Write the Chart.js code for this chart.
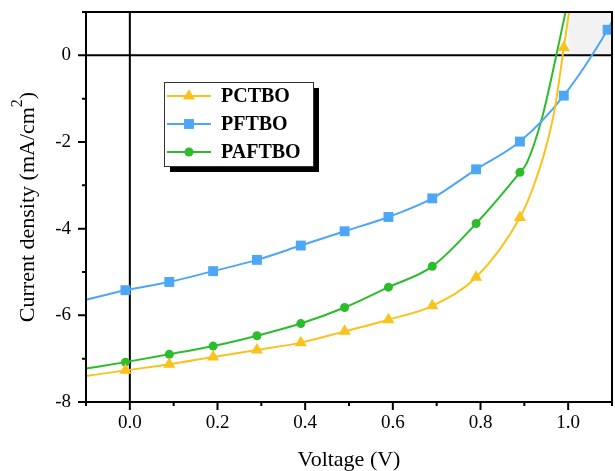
<!DOCTYPE html>
<html>
<head>
  <title>J-V curves</title>
  <script src="https://cdn.jsdelivr.net/npm/chart.js"></script>
  <style>
    body { margin: 0; background: #fff; }
  </style>
</head>
<body>
  <canvas id="grafico" width="615" height="471"></canvas>

  <script>
    // voltages where the markers sit
    const markerV = [-0.01, 0.09, 0.19, 0.29, 0.39, 0.49, 0.59, 0.69, 0.79, 0.89, 0.99, 1.09];

    const pctboV = [-0.1, -0.01, 0.09, 0.19, 0.29, 0.39, 0.49, 0.59, 0.69, 0.79, 0.89, 0.92, 0.95, 0.97, 0.99, 1.005];
    const pctboJ = [-7.40, -7.27, -7.13, -6.96, -6.80, -6.63, -6.37, -6.10, -5.78, -5.12, -3.74, -3.05, -2.1, -1.2, 0.18, 1.2];

    const pftboV = [-0.1, -0.01, 0.09, 0.19, 0.29, 0.39, 0.49, 0.59, 0.69, 0.79, 0.89, 0.99, 1.09, 1.1];
    const pftboJ = [-5.64, -5.42, -5.23, -4.98, -4.72, -4.39, -4.06, -3.73, -3.30, -2.63, -1.99, -0.93, 0.59, 0.78];

    const paftboV = [-0.1, -0.01, 0.09, 0.19, 0.29, 0.39, 0.49, 0.59, 0.69, 0.79, 0.89, 0.905, 0.94, 0.973, 0.994, 1.005];
    const paftboJ = [-7.23, -7.08, -6.90, -6.71, -6.47, -6.19, -5.82, -5.35, -4.87, -3.88, -2.70, -2.5, -1.46, 0, 1.0, 1.5];

    const xTicks = [0.0, 0.2, 0.4, 0.6, 0.8, 1.0];
    const yTicks = [-8, -6, -4, -2, 0];

    const serie = (v, j) => v.map((x, i) => ({ x: x, y: j[i] }));
    const esMarca = x => markerV.some(m => Math.abs(m - x) < 1e-6);

    const amarillo = '#f9c21c';
    const azul = '#4ea6f6';
    const verde = '#2cbc2c';

    const series = [
      { label: 'PCTBO', color: amarillo, style: 'triangle', r: 7, data: serie(pctboV, pctboJ) },
      { label: 'PFTBO', color: azul, style: 'rect', r: 7, data: serie(pftboV, pftboJ) },
      { label: 'PAFTBO', color: verde, style: 'circle', r: 4.5, data: serie(paftboV, paftboJ) }
    ];

    const familia = '"Liberation Serif", "Times New Roman", serif';

    // frame, zero lines, ticks, grey box, y title and the boxed legend
    const extras = {
      id: 'extras',
      beforeDatasetsDraw(chart) {
        const { ctx, chartArea: a, scales: { x, y } } = chart;
        ctx.save();
        ctx.fillStyle = '#f2f2f2';
        const x0 = x.getPixelForValue(1.0), x1 = x.getPixelForValue(1.1);
        const y0 = y.getPixelForValue(0), y1 = y.getPixelForValue(1);
        ctx.fillRect(x0, y1, x1 - x0, y0 - y1);
        ctx.strokeStyle = '#000';
        ctx.lineWidth = 2;
        ctx.beginPath();
        ctx.moveTo(x.getPixelForValue(0), a.top);
        ctx.lineTo(x.getPixelForValue(0), a.bottom);
        ctx.moveTo(a.left, y0);
        ctx.lineTo(a.right, y0);
        ctx.stroke();
        ctx.restore();
      },
      afterDraw(chart) {
        const { ctx, chartArea: a, scales: { x, y } } = chart;
        ctx.save();
        ctx.strokeStyle = '#000';
        ctx.lineWidth = 2;
        ctx.strokeRect(a.left, a.top, a.right - a.left, a.bottom - a.top);
        ctx.beginPath();
        for (let k = -1; k <= 11; k++) {
          const px = x.getPixelForValue(k / 10);
          const len = (k % 2 === 0) ? 8 : 4;
          ctx.moveTo(px, a.bottom);
          ctx.lineTo(px, a.bottom + len);
        }
        for (let k = -8; k <= 1; k++) {
          const py = y.getPixelForValue(k);
          const len = (k % 2 === 0) ? 8 : 4;
          ctx.moveTo(a.left, py);
          ctx.lineTo(a.left - len, py);
        }
        ctx.stroke();

        // y title with a real superscript
        ctx.save();
        ctx.translate(28, (a.top + a.bottom) / 2);
        ctx.rotate(-Math.PI / 2);
        ctx.fillStyle = '#000';
        ctx.textBaseline = 'middle';
        const base = 'Current density (mA/cm', sup = '2', fin = ')';
        ctx.font = '22px ' + familia;
        const wb = ctx.measureText(base).width, wf = ctx.measureText(fin).width;
        ctx.font = '16px ' + familia;
        const ws = ctx.measureText(sup).width;
        let tx = -(wb + ws + wf) / 2;
        ctx.font = '22px ' + familia;
        ctx.textAlign = 'left';
        ctx.fillText(base, tx, 0);
        ctx.font = '16px ' + familia;
        ctx.fillText(sup, tx + wb, -10);
        ctx.font = '22px ' + familia;
        ctx.fillText(fin, tx + wb + ws, 0);
        ctx.restore();

        // legend
        const lx = 164, ly = 82, lw = 149, lh = 84;
        ctx.fillStyle = '#000';
        ctx.fillRect(lx + 6, ly + 6, lw, lh);
        ctx.fillStyle = '#fff';
        ctx.fillRect(lx, ly, lw, lh);
        ctx.lineWidth = 1;
        ctx.strokeStyle = '#333';
        ctx.strokeRect(lx + 0.5, ly + 0.5, lw, lh);
        ctx.font = 'bold 20px ' + familia;
        ctx.textBaseline = 'middle';
        series.forEach((s, i) => {
          const yy = ly + 14 + i * 28;
          ctx.strokeStyle = s.color;
          ctx.lineWidth = 2;
          ctx.beginPath();
          ctx.moveTo(lx + 3, yy);
          ctx.lineTo(lx + 47, yy);
          ctx.stroke();
          ctx.fillStyle = s.color;
          Chart.helpers.drawPoint(ctx, { pointStyle: s.style, radius: s.r, borderWidth: 0 }, lx + 25, yy);
          ctx.fillStyle = '#000';
          ctx.fillText(s.label, lx + 57, yy + 1);
        });
        ctx.restore();
      }
    };

    const fuente = { family: familia, size: 19 };

    new Chart(document.getElementById('grafico').getContext('2d'), {
      type: 'line',
      data: {
        datasets: series.map(s => ({
          label: s.label,
          data: s.data,
          borderColor: s.color,
          backgroundColor: s.color,
          borderWidth: 2,
          fill: false,
          cubicInterpolationMode: 'monotone',
          pointStyle: s.style,
          pointRadius: c => esMarca(c.raw.x) ? s.r : 0,
          pointBorderWidth: 0,
          pointHoverRadius: 0
        }))
      },
      options: {
        responsive: false,
        animation: false,
        events: [],
        layout: { padding: { top: 1, right: 3, left: 0, bottom: 0 } },
        plugins: { legend: { display: false }, tooltip: { enabled: false } },
        scales: {
          x: {
            type: 'linear',
            min: -0.1,
            max: 1.1,
            afterFit: s => { s.height = 69; s.paddingLeft = 0; s.paddingRight = 0; },
            afterBuildTicks: s => { s.ticks = xTicks.map(v => ({ value: v })); },
            grid: { display: false, drawTicks: false },
            border: { display: false },
            ticks: {
              color: '#000',
              font: fuente,
              padding: 10,
              maxRotation: 0,
              callback: v => v.toFixed(1)
            },
            title: {
              display: true,
              text: 'Voltage (V)',
              color: '#000',
              font: { family: familia, size: 22, lineHeight: 1 },
              padding: { top: 0, bottom: 0 }
            }
          },
          y: {
            type: 'linear',
            min: -8,
            max: 1,
            afterFit: s => { s.width = 86; s.paddingTop = 12; s.paddingBottom = 0; },
            afterBuildTicks: s => { s.ticks = yTicks.map(v => ({ value: v })); },
            grid: { display: false, drawTicks: false },
            border: { display: false },
            ticks: {
              color: '#000',
              font: fuente,
              padding: 15,
              callback: v => String(v)
            }
          }
        }
      },
      plugins: [extras]
    });
  </script>
</body>
</html>
